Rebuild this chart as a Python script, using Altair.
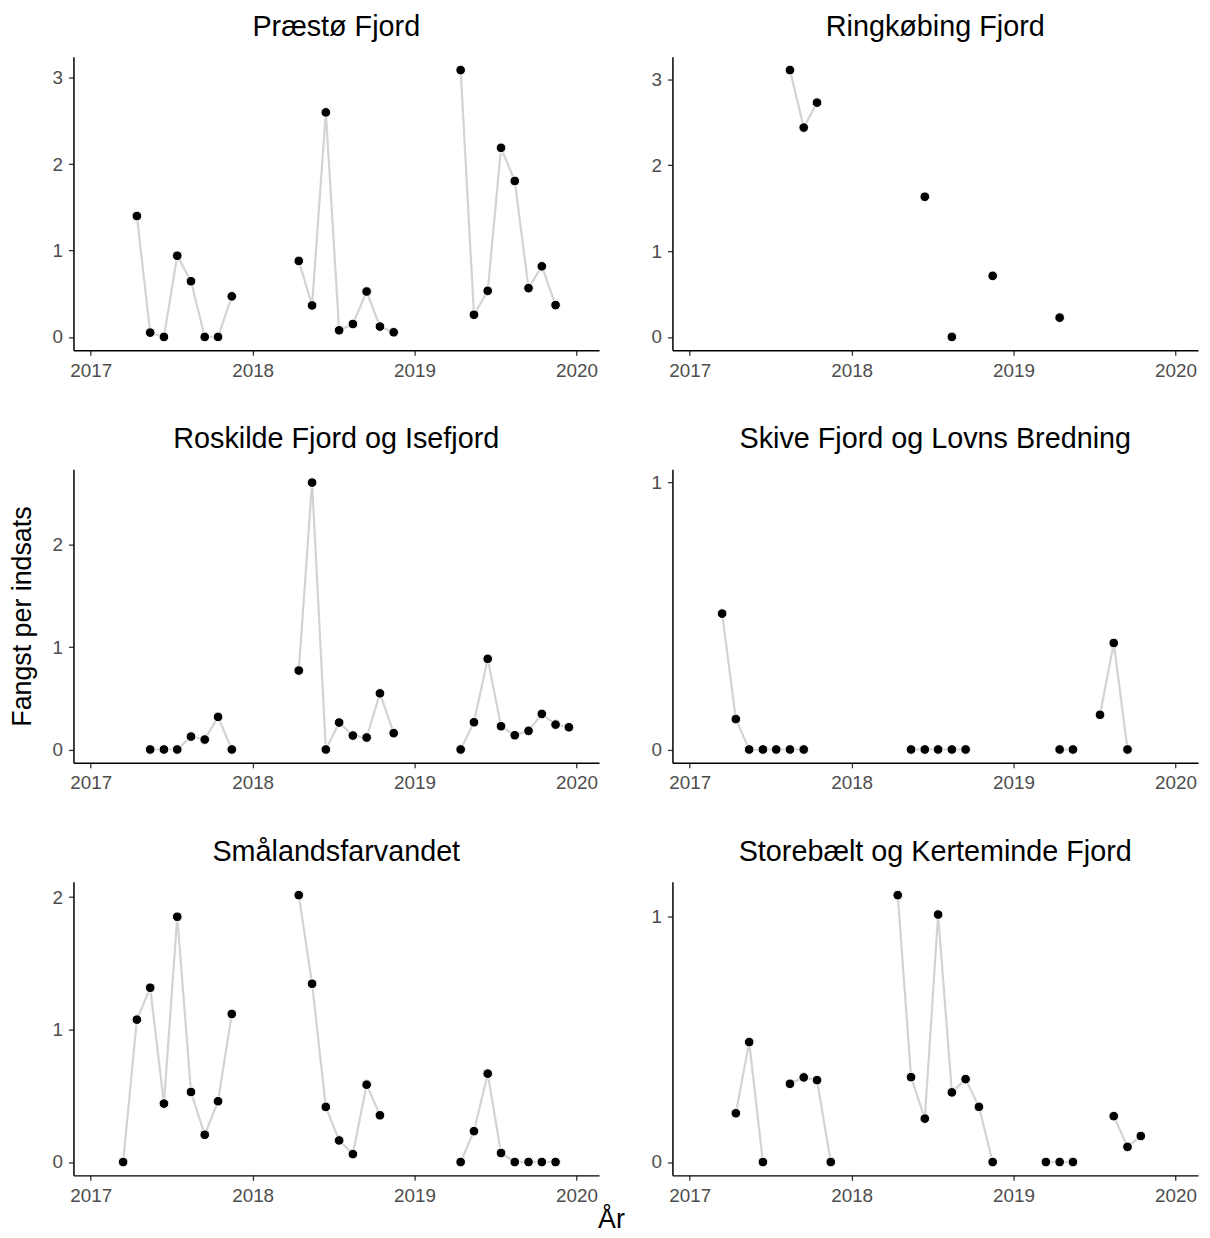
import altair as alt
import pandas as pd

FONT = "Liberation Sans"

# ---- data (month, catch per effort) ----
praesto_months = ["2017-04", "2017-05", "2017-06", "2017-07", "2017-08", "2017-09", "2017-10", "2017-11",
                  "2018-04", "2018-05", "2018-06", "2018-07", "2018-08", "2018-09", "2018-10", "2018-11",
                  "2019-04", "2019-05", "2019-06", "2019-07", "2019-08", "2019-09", "2019-10", "2019-11"]
praesto_values = [1.40, 0.05, 0.00, 0.94, 0.645, 0.00, 0.00, 0.47,
                  0.88, 0.365, 2.60, 0.077, 0.15, 0.526, 0.12, 0.054,
                  3.09, 0.257, 0.534, 2.19, 1.806, 0.565, 0.818, 0.369]

ringkobing_months = ["2017-08", "2017-09", "2017-10", "2018-06", "2018-08", "2018-11", "2019-04"]
ringkobing_values = [3.11, 2.44, 2.73, 1.634, 0.00, 0.712, 0.225]

roskilde_months = ["2017-05", "2017-06", "2017-07", "2017-08", "2017-09", "2017-10", "2017-11",
                   "2018-04", "2018-05", "2018-06", "2018-07", "2018-08", "2018-09", "2018-10", "2018-11",
                   "2019-04", "2019-05", "2019-06", "2019-07", "2019-08", "2019-09", "2019-10", "2019-11", "2019-12"]
roskilde_values = [0.00, 0.00, 0.00, 0.126, 0.097, 0.318, 0.00,
                   0.771, 2.606, 0.00, 0.263, 0.136, 0.117, 0.548, 0.159,
                   0.00, 0.266, 0.885, 0.227, 0.139, 0.182, 0.347, 0.243, 0.217]

skive_months = ["2017-03", "2017-04", "2017-05", "2017-06", "2017-07", "2017-08", "2017-09",
                "2018-05", "2018-06", "2018-07", "2018-08", "2018-09",
                "2019-04", "2019-05", "2019-07", "2019-08", "2019-09"]
skive_values = [0.509, 0.114, 0.00, 0.00, 0.00, 0.00, 0.00,
                0.00, 0.00, 0.00, 0.00, 0.00,
                0.00, 0.00, 0.130, 0.399, 0.00]

smaaland_months = ["2017-03", "2017-04", "2017-05", "2017-06", "2017-07", "2017-08", "2017-09", "2017-10", "2017-11",
                   "2018-04", "2018-05", "2018-06", "2018-07", "2018-08", "2018-09", "2018-10",
                   "2019-04", "2019-05", "2019-06", "2019-07", "2019-08", "2019-09", "2019-10", "2019-11"]
smaaland_values = [0.00, 1.075, 1.316, 0.441, 1.852, 0.529, 0.206, 0.459, 1.118,
                   2.015, 1.346, 0.416, 0.163, 0.060, 0.584, 0.353,
                   0.00, 0.233, 0.667, 0.068, 0.00, 0.00, 0.00, 0.00]

storebaelt_months = ["2017-04", "2017-05", "2017-06", "2017-08", "2017-09", "2017-10", "2017-11",
                     "2018-04", "2018-05", "2018-06", "2018-07", "2018-08", "2018-09", "2018-10", "2018-11",
                     "2019-03", "2019-04", "2019-05", "2019-08", "2019-09", "2019-10"]
storebaelt_values = [0.199, 0.489, 0.00, 0.319, 0.345, 0.334, 0.00,
                     1.088, 0.346, 0.177, 1.009, 0.284, 0.338, 0.225, 0.00,
                     0.00, 0.00, 0.00, 0.187, 0.062, 0.106]

panel_titles = ["Præstø Fjord", "Ringkøbing Fjord", "Roskilde Fjord og Isefjord",
                "Skive Fjord og Lovns Bredning", "Smålandsfarvandet", "Storebælt og Kerteminde Fjord"]
panel_months = [praesto_months, ringkobing_months, roskilde_months,
                skive_months, smaaland_months, storebaelt_months]
panel_values = [praesto_values, ringkobing_values, roskilde_values,
                skive_values, smaaland_values, storebaelt_values]
panel_yticks = [[0, 1, 2, 3], [0, 1, 2, 3], [0, 1, 2], [0, 1], [0, 1, 2], [0, 1]]
# upper value each panel's y range must include (Skive's axis reaches 1 in the reference)
panel_yinclude = [0, 0, 0, 1, 0, 0]
year_ticks = [2017, 2018, 2019, 2020]

X_TITLE = "År"
Y_TITLE = "Fangst per indsats"

W, H = 530, 296


def make_df(months, values):
    df = pd.DataFrame({"month": months, "value": values})
    df["date"] = pd.to_datetime(df["month"] + "-15")
    idx = df["date"].dt.year * 12 + df["date"].dt.month
    df["seg"] = (idx.diff() != 1).cumsum()
    return df[["date", "value", "seg"]]


charts = []
for i, (title, months, values, yt, yinc) in enumerate(
        zip(panel_titles, panel_months, panel_values, panel_yticks, panel_yinclude)):
    df = make_df(months, values)
    vmin, vmax = min(values), max(max(values), yinc)
    pad = 0.05 * (vmax - vmin)
    show_y = (i == 2)
    show_x = (i == 4)
    xaxis_kw = dict(values=[alt.DateTime(year=y, month=1, date=1) for y in year_ticks],
                    format="%Y", labelPadding=6)
    if show_x:
        xaxis_kw.update(title=X_TITLE, titleX=542, titleY=53, titleBaseline="alphabetic",
                        titleAlign="center", titleAnchor="start")
    else:
        xaxis_kw.update(title=None)
    yaxis_kw = dict(values=yt, format="d", labelPadding=6)
    if show_y:
        yaxis_kw.update(title=Y_TITLE, titlePadding=16)
    else:
        yaxis_kw.update(title=None)

    base = alt.Chart(df).encode(
        x=alt.X("date:T",
                scale=alt.Scale(domain=[alt.DateTime(year=2016, month=11, date=23),
                                        alt.DateTime(year=2020, month=2, date=21)]),
                axis=alt.Axis(**xaxis_kw)),
        y=alt.Y("value:Q",
                scale=alt.Scale(domain=[vmin - pad, vmax + pad], nice=False, zero=False),
                axis=alt.Axis(**yaxis_kw)),
    )
    line = base.mark_line(color="#D3D3D3", strokeWidth=2.2).encode(detail="seg:N")
    pts = base.mark_circle(fill="black", stroke="white", strokeWidth=1, size=95, opacity=1)
    ch = alt.layer(line, pts).properties(
        width=W, height=H,
        title=alt.TitleParams(title, fontSize=29, font=FONT, fontWeight="normal",
                              color="black", anchor="middle", offset=15),
    )
    charts.append(ch)

chart = alt.concat(*charts, columns=2, spacing={"row": 120, "column": 74}, bounds="flush").properties(
    padding={"left": 0, "top": 0, "right": 4, "bottom": 0}
).configure_view(stroke=None).configure_axis(
    grid=False,
    domainColor="black", domainWidth=1.5,
    tickColor="#333333", tickWidth=1.3, tickSize=5,
    labelColor="#4D4D4D", labelFont=FONT, labelFontSize=19,
    titleColor="black", titleFont=FONT, titleFontSize=27, titleFontWeight="normal",
)

chart.save("out.html", embed_options={"renderer": "svg", "actions": False})
